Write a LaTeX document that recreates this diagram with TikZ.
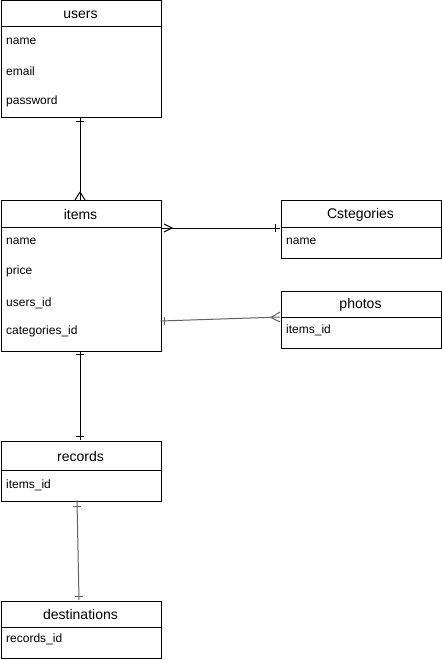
\documentclass[tikz,border=0pt]{standalone}
\usepackage{fontspec}
\setmainfont{Liberation Sans}
\begin{document}
\begin{tikzpicture}[x=1pt,y=-1pt,
  tbl/.style={draw=black,line width=1pt,fill=white,anchor=north west,minimum width=160pt,inner sep=0pt},
  hdr/.style={font=\fontsize{14}{16}\selectfont,inner sep=0pt},
  attr/.style={font=\fontsize{12}{14}\selectfont,anchor=west,inner sep=0pt},
  rel/.style={line width=1pt,draw=black},
  relg/.style={line width=1pt,draw=black!62}]
\useasboundingbox (0,0) rectangle (441,660);

% tables
\node[tbl,minimum height=117pt] (users) at (0.5,0.5) {};
\draw[line width=1pt] (0.5,27) -- (160.5,27);
\node[hdr] (usersT) at (80.5,14.5) {users};
\node[attr] (usersA1) at (6,41) {name};
\node[attr] (usersA2) at (6,71) {email};
\node[attr] (usersA3) at (6,101) {password};

\node[tbl,minimum height=150pt] (items) at (0.5,200.5) {};
\draw[line width=1pt] (0.5,227) -- (160.5,227);
\node[hdr] (itemsT) at (80.5,214.5) {items};
\node[attr] at (6,241) {name};
\node[attr] at (6,271) {price};
\node[attr] at (6,303) {users\_id};
\node[attr] at (6,331) {categories\_id};

\node[tbl,minimum height=57pt] (cat) at (280.5,200.5) {};
\draw[line width=1pt] (280.5,227) -- (440.5,227);
\node[hdr] (catT) at (360.5,214.5) {Cstegories};
\node[attr] at (286,241) {name};

\node[tbl,minimum height=57pt] (photos) at (280.5,290.5) {};
\draw[line width=1pt] (280.5,317) -- (440.5,317);
\node[hdr] (photosT) at (360.5,304.5) {photos};
\node[attr] at (286,330) {items\_id};

\node[tbl,minimum height=60pt] (records) at (0.5,440.5) {};
\draw[line width=1pt] (0.5,470) -- (160.5,470);
\node[hdr] (recordsT) at (80.5,456.5) {records};
\node[attr] at (6,485) {items\_id};

\node[tbl,minimum height=57pt] (dest) at (0.5,600.5) {};
\draw[line width=1pt] (0.5,627) -- (160.5,627);
\node[hdr] (destT) at (80.5,614.5) {destinations};
\node[attr] at (6,639) {records\_id};

% end points of the relations
\coordinate (uS) at (80,118);
\coordinate (iN) at (80,200);
\coordinate (iE1) at (160.5,228);
\coordinate (cW) at (280,228);
\coordinate (iE2) at (160.5,321);
\coordinate (pW) at (280,317);
\coordinate (iS) at (80,350.5);
\coordinate (rN) at (80,440);
\coordinate (rS) at (77,500.5);
\coordinate (dN) at (79,600);

% users -- items (one to many)
\draw[rel] (uS) -- (iN);
\draw[rel] (76,122) -- (84,122);
\draw[rel] (80,192) -- (75,200) (80,192) -- (85,200);

% items -- categories (many to one)
\draw[rel] (iE1) -- (cW);
\draw[rel] (164,224) -- (172,228) -- (164,232);
\draw[rel] (275,224) -- (275,232);

% items -- photos (one to many)
\draw[relg] (iE2) -- (pW);
\draw[relg] (164,317) -- (164,325);
\draw[relg] (280,312) -- (271,317.5) -- (280,322);

% items -- records (one to one)
\draw[rel] (iS) -- (rN);
\draw[rel] (76,354) -- (84,354);
\draw[rel] (76,436) -- (84,436);

% records -- destinations (one to one)
\draw[relg] (rS) -- (dN);
\draw[relg] (73,506) -- (81,506);
\draw[relg] (75,596) -- (83,596);
\end{tikzpicture}
\end{document}
